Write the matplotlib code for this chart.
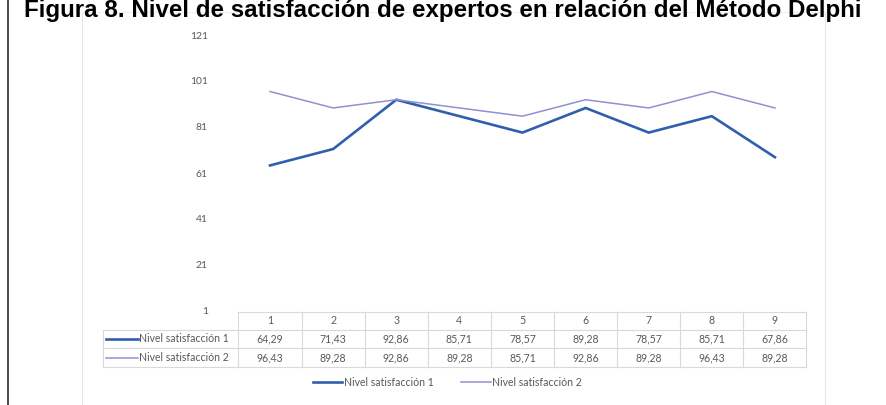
import matplotlib
matplotlib.use("Agg")
import matplotlib.pyplot as plt
from matplotlib.lines import Line2D
import matplotlib.transforms as mtransforms

# ---- data ----
categories = [1, 2, 3, 4, 5, 6, 7, 8, 9]
series_names = ["Nivel satisfacción 1", "Nivel satisfacción 2"]
nivel1 = [64.29, 71.43, 92.86, 85.71, 78.57, 89.28, 78.57, 85.71, 67.86]
nivel2 = [96.43, 89.28, 92.86, 89.28, 85.71, 92.86, 89.28, 96.43, 89.28]
yticks = [1, 21, 41, 61, 81, 101, 121]
title = "Figura 8. Nivel de satisfacción de expertos en relación del Método Delphi"

colors = ["#2F5FAE", "#8F92CF"]
widths = [1.9, 1.1]
W, H = 887, 405
txt_color = "#595959"
grid_color = "#D9D9D9"
font = "Lato"

fig = plt.figure(figsize=(W / 100, H / 100), dpi=100)
fig.patch.set_facecolor("white")

def fx(px):
    return px / W

def fy(py):
    return 1 - py / H

# axes placement
left_px, right_px, top_px, bot_px = 238.5, 806.5, 35, 311
ax = fig.add_axes([fx(left_px), fy(bot_px), fx(right_px - left_px), (bot_px - top_px) / H])
ax.set_xlim(0.5, len(categories) + 0.5)
ax.set_ylim(yticks[0], yticks[-1])
ax.set_yticks(yticks)
ax.set_yticklabels([str(v) for v in yticks], fontsize=7.5, color=txt_color, family=font)
ax.tick_params(axis="y", length=0, pad=22)
ax.set_xticks([])
for s in ax.spines.values():
    s.set_visible(False)
ax.set_facecolor("none")

for vals, c, lw in zip([nivel1, nivel2], colors, widths):
    ax.plot(categories, vals, color=c, lw=lw, solid_joinstyle="miter", zorder=3)

# ---- frame lines ----
fig.add_artist(Line2D([fx(8.5), fx(8.5)], [0, 1], color="#3A3A3A", lw=1.3))
fig.add_artist(Line2D([fx(82), fx(82)], [0, fy(12)], color="#E6E6E6", lw=0.8))
fig.add_artist(Line2D([fx(825), fx(825)], [0, fy(12)], color="#E6E6E6", lw=0.8))
fig.add_artist(Line2D([fx(82), fx(825)], [fy(12), fy(12)], color="#EEEEEE", lw=0.8))

# ---- title ----
fig.text(fx(24), fy(17), title, fontsize=17.4, fontweight="bold",
         family="Liberation Sans", color="black", ha="left", va="baseline", zorder=5)

# ---- data table ----
trans = mtransforms.blended_transform_factory(ax.transData, fig.transFigure)
row_y = [321, 339, 357.5]
lines_y = [312, 330, 348, 367]
tbl_left = 103
fig.add_artist(Line2D([fx(left_px), fx(right_px)], [fy(lines_y[0]), fy(lines_y[0])], color=grid_color, lw=0.8))
for yy in lines_y[1:]:
    fig.add_artist(Line2D([fx(tbl_left), fx(right_px)], [fy(yy), fy(yy)], color=grid_color, lw=0.8))
for k in range(len(categories) + 1):
    xk = k + 0.5
    ax.add_artist(Line2D([xk, xk], [fy(lines_y[0]), fy(lines_y[-1])], transform=trans,
                         color=grid_color, lw=0.8, clip_on=False))
fig.add_artist(Line2D([fx(tbl_left), fx(tbl_left)], [fy(lines_y[1]), fy(lines_y[-1])], color=grid_color, lw=0.8))

for i, cat in enumerate(categories):
    ax.text(cat, fy(row_y[0]), str(cat), transform=trans, ha="center", va="center",
            fontsize=7.6, color=txt_color, family=font)
    for r, vals in enumerate([nivel1, nivel2]):
        ax.text(cat, fy(row_y[r + 1]), f"{vals[i]:.2f}".replace(".", ","), transform=trans,
                ha="center", va="center", fontsize=7.6, color=txt_color, family=font)

for r, (name, c, lw) in enumerate(zip(series_names, colors, widths)):
    yy = fy(row_y[r + 1])
    fig.add_artist(Line2D([fx(106), fx(138)], [yy, yy], color=c, lw=lw))
    fig.text(fx(139), yy, name, ha="left", va="center", fontsize=7.6, color=txt_color, family=font)

# ---- legend ----
leg_y = fy(382)
leg_items = [(313, 342), (461, 491)]
for (x0, x1), name, c, lw in zip(leg_items, series_names, colors, widths):
    fig.add_artist(Line2D([fx(x0), fx(x1)], [leg_y, leg_y], color=c, lw=lw))
    fig.text(fx(x1 + 1.5), leg_y, name, ha="left", va="center", fontsize=7.6, color=txt_color, family=font)

fig.savefig("out.png", dpi=100, facecolor="white")
